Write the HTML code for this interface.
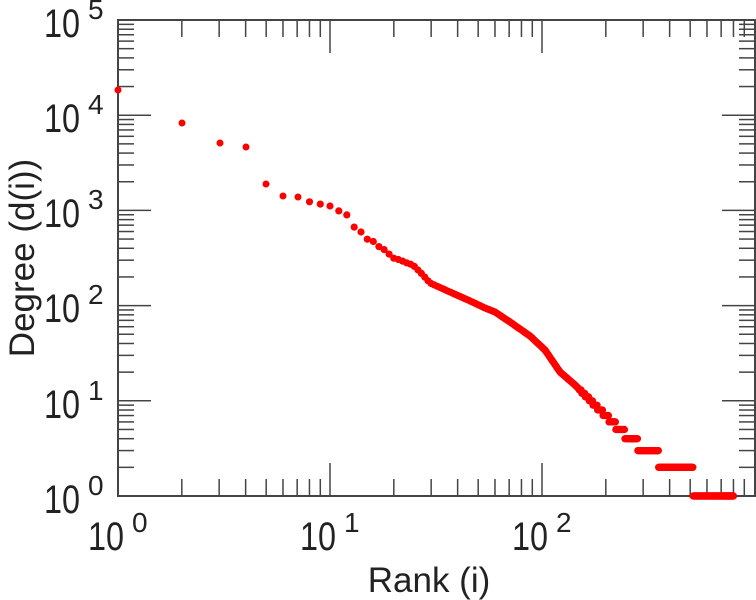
<!DOCTYPE html>
<html><head><meta charset="utf-8"><style>
html,body{margin:0;padding:0;background:#fff;}
svg{display:block;font-family:"Liberation Sans",sans-serif;}
</style></head><body>
<svg id="s" width="756" height="600" xmlns="http://www.w3.org/2000/svg">
<g id="ticks" stroke="#444" stroke-width="1.5" fill="none"></g>
<path d="M118,20 H755 V496 H118 Z" stroke="#444" stroke-width="2" fill="none"/>
<g id="pts" fill="#ff0000"></g>
<g fill="#222" font-size="40">
<text x="44" y="513" textLength="36" lengthAdjust="spacingAndGlyphs">10</text><text x="88" y="495" font-size="28">0</text>
<text x="44" y="418" textLength="36" lengthAdjust="spacingAndGlyphs">10</text><text x="88" y="400" font-size="28">1</text>
<text x="44" y="322" textLength="36" lengthAdjust="spacingAndGlyphs">10</text><text x="88" y="304" font-size="28">2</text>
<text x="44" y="227" textLength="36" lengthAdjust="spacingAndGlyphs">10</text><text x="88" y="209" font-size="28">3</text>
<text x="44" y="132" textLength="36" lengthAdjust="spacingAndGlyphs">10</text><text x="88" y="114" font-size="28">4</text>
<text x="44" y="37" textLength="36" lengthAdjust="spacingAndGlyphs">10</text><text x="88" y="19" font-size="28">5</text>
<text x="88" y="550" textLength="36" lengthAdjust="spacingAndGlyphs">10</text><text x="132" y="532" font-size="28">0</text>
<text x="300" y="550" textLength="36" lengthAdjust="spacingAndGlyphs">10</text><text x="344" y="532" font-size="28">1</text>
<text x="512" y="550" textLength="36" lengthAdjust="spacingAndGlyphs">10</text><text x="556" y="532" font-size="28">2</text>
<text x="429" y="592" font-size="35" text-anchor="middle">Rank (i)</text>
<text transform="translate(34,258) rotate(-90)" font-size="35" text-anchor="middle">Degree (d(i))</text>
</g>
</svg>
<script>
var X0=118,DX=212,Y0=496,DY=95.2,t='';
for(var d=0;d<3;d++)for(var k=1;k<=9;k++){var x=X0+DX*(d+Math.log10(k));if(d==0&&k==1)continue;var L=(k==1)?33:17;
t+='<line x1="'+x+'" y1="496" x2="'+x+'" y2="'+(496-L)+'"/><line x1="'+x+'" y1="20" x2="'+x+'" y2="'+(20+L)+'"/>';}
for(var d=0;d<5;d++)for(var k=1;k<=9;k++){if(d==0&&k==1)continue;var y=Y0-DY*(d+Math.log10(k));var L=(k==1)?33:16;
t+='<line x1="118" y1="'+y+'" x2="'+(118+L)+'" y2="'+y+'"/><line x1="755" y1="'+y+'" x2="'+(755-L)+'" y2="'+y+'"/>';}
document.getElementById('ticks').innerHTML=t;
var first=[[118,90],[182,123],[220,143],[246,147],[266,184],[283,196],[298,197]];
var A=[[298,197],[310,202],[320,204],[330,206],[339,211],[347,215],[354,227],[361,232],[368,240],[375,242],[380,248],[385,250],[393,258],[400,260],[407,263],[413,265],[422,274],[430,283],[450,292],[468,300],[485,308],[495,312],[510,322],[530,336],[545,350],[560,372],[575,385],[600,410],[620,430],[645,450],[670,465],[690,478],[733,496],[760,500]];
function yAt(x){for(var i=0;i<A.length-1;i++){if(x<=A[i+1][0]){var f=(x-A[i][0])/(A[i+1][0]-A[i][0]);return A[i][1]+f*(A[i+1][1]-A[i][1]);}}return 496;}
var p='';first.forEach(function(q){p+='<circle cx="'+q[0]+'" cy="'+q[1]+'" r="3.5"/>';});
for(var r=8;r<=800;r++){var x=X0+DX*Math.log10(r),y=yAt(x);
if(r>=150){var dg=Math.max(1,Math.round(Math.pow(10,(Y0-y)/DY)));y=Y0-DY*Math.log10(dg);}
p+='<circle cx="'+x.toFixed(1)+'" cy="'+y.toFixed(1)+'" r="3.6"/>';}
document.getElementById('pts').innerHTML=p;
</script>
</body></html>
